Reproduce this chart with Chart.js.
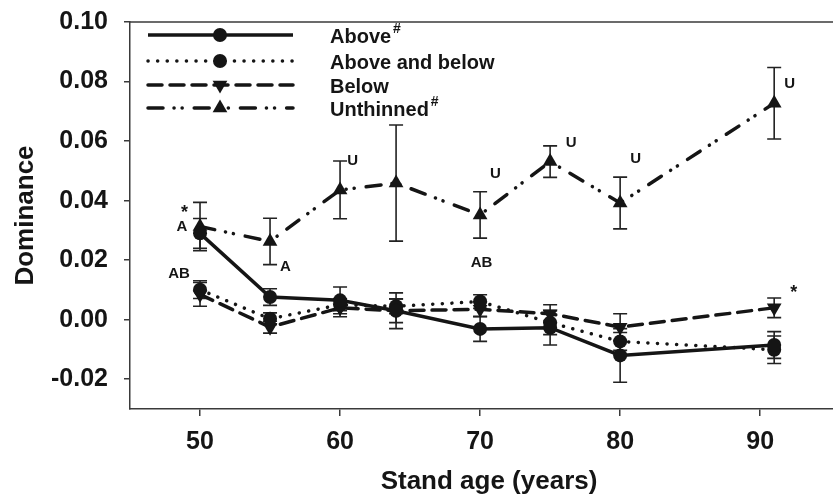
<!DOCTYPE html>
<html>
<head>
<meta charset="utf-8">
<script src="https://cdn.jsdelivr.net/npm/chart.js"></script>
<style>
  html, body { margin: 0; padding: 0; background: #fff; overflow: hidden; }
  #wrap { width: 833px; height: 497px; }
</style>
</head>
<body>
<div id="wrap"><canvas id="c" width="833" height="497"></canvas></div>
<script>
// stand ages (years)
const ages = [50, 55, 60, 64, 70, 75, 80, 91];

// dominance means and error bar half-lengths
const above = [0.029, 0.0076, 0.0065, 0.003, -0.0031, -0.0027, -0.012, -0.0085];
const aboveErr = [0.005, 0.0028, 0.0045, 0.004, 0.0042, 0.0058, 0.009, 0.0045];
const aboveBelow = [0.0101, 0.0003, 0.005, 0.0045, 0.0061, -0.001, -0.0073, -0.0101];
const aboveBelowErr = [0.003, 0.002, 0.002, 0.0025, 0.0023, 0.004, 0.003, 0.0046];
const below = [0.0085, -0.0025, 0.004, 0.003, 0.0035, 0.002, -0.0025, 0.004];
const belowErr = [0.004, 0.002, 0.003, 0.006, 0.0025, 0.003, 0.0045, 0.0033];
const unthinned = [0.0313, 0.0263, 0.0436, 0.0459, 0.0352, 0.0531, 0.0392, 0.0727];
const unthinnedErr = [0.0081, 0.0078, 0.0097, 0.0195, 0.0078, 0.0053, 0.0087, 0.012];

// tick labels
const xTicks = [50, 60, 70, 80, 90];
const yTicks = [-0.02, 0.00, 0.02, 0.04, 0.06, 0.08, 0.10];

// significance letters, placed in data coordinates
const noteText = ["*", "A", "AB", "A", "U", "U", "AB", "U", "U", "U", "*"];
const noteAge = [48.9, 48.7, 48.5, 56.1, 60.9, 71.1, 70.1, 76.5, 81.1, 92.1, 92.4];
const noteVal = [0.0372, 0.0312, 0.0154, 0.0178, 0.0534, 0.049, 0.0191, 0.0594, 0.054, 0.0792, 0.0102];

const INK = "#151515";
const AXIS = "#3a3a3a";
const FONT = "'Liberation Sans', Arial, sans-serif";

const styles = {
  above: { dash: [], style: "circle", rot: 0, r: 7 },
  aboveBelow: { dash: [0.1, 9.5], style: "circle", rot: 0, r: 7 },
  below: { dash: [14, 8], style: "triangle", rot: 180, r: 8.5 },
  unthinned: { dash: [15, 11, 0.1, 8, 0.1, 12], style: "triangle", rot: 0, r: 8.5 }
};

function makeSet(label, vals, errs, st) {
  return {
    label,
    data: ages.map((a, i) => ({ x: a, y: vals[i] })),
    errs,
    borderColor: INK,
    backgroundColor: INK,
    borderWidth: 3.5,
    borderDash: st.dash,
    borderCapStyle: st.dash.length ? "round" : "butt",
    pointStyle: st.style,
    pointRotation: st.rot,
    pointRadius: st.r,
    pointBorderWidth: 0,
    pointBackgroundColor: INK,
    tension: 0,
    fill: false
  };
}

const errorBars = {
  id: "errorBars",
  beforeDatasetsDraw(chart) {
    const { ctx, scales: { x, y } } = chart;
    ctx.save();
    ctx.strokeStyle = "#222";
    ctx.lineWidth = 1.6;
    chart.data.datasets.forEach(ds => {
      ds.data.forEach((p, i) => {
        const px = x.getPixelForValue(p.x);
        const top = y.getPixelForValue(p.y + ds.errs[i]);
        const bot = y.getPixelForValue(p.y - ds.errs[i]);
        ctx.beginPath();
        ctx.moveTo(px, top); ctx.lineTo(px, bot);
        ctx.moveTo(px - 7, top); ctx.lineTo(px + 7, top);
        ctx.moveTo(px - 7, bot); ctx.lineTo(px + 7, bot);
        ctx.stroke();
      });
    });
    ctx.restore();
  }
};

const extras = {
  id: "extras",
  afterDraw(chart) {
    const { ctx, chartArea, scales: { x, y } } = chart;
    ctx.save();
    // top frame line
    ctx.strokeStyle = AXIS;
    ctx.lineWidth = 1.5;
    ctx.beginPath();
    ctx.moveTo(chartArea.left, chartArea.top);
    ctx.lineTo(chartArea.right, chartArea.top);
    ctx.stroke();

    // annotations
    ctx.fillStyle = INK;
    ctx.textAlign = "center";
    ctx.textBaseline = "middle";
    noteText.forEach((t, i) => {
      ctx.font = (t === "*" ? "bold 18px " : "bold 15px ") + FONT;
      ctx.fillText(t, x.getPixelForValue(noteAge[i]), y.getPixelForValue(noteVal[i]) + (t === "*" ? 4 : 0));
    });

    // legend
    const rows = [
      ["Above", true, styles.above],
      ["Above and below", false, styles.aboveBelow],
      ["Below", false, styles.below],
      ["Unthinned", true, styles.unthinned]
    ];
    const rowY = [35, 61, 85, 108];
    rows.forEach((r, i) => {
      const ly = rowY[i];
      ctx.strokeStyle = INK;
      ctx.lineWidth = 3.5;
      ctx.setLineDash(r[2].dash);
      ctx.lineCap = r[2].dash.length ? "round" : "butt";
      ctx.beginPath();
      ctx.moveTo(148, ly); ctx.lineTo(293, ly);
      ctx.stroke();
      ctx.setLineDash([]);
      Chart.helpers.drawPoint(ctx, { pointStyle: r[2].style, rotation: r[2].rot, radius: r[2].r, borderWidth: 0 }, 220, ly);
      ctx.fillStyle = INK;
      ctx.textAlign = "left";
      ctx.textBaseline = "middle";
      ctx.font = "bold 20px " + FONT;
      ctx.fillText(r[0], 330, ly + 2);
      if (r[1]) {
        const w = ctx.measureText(r[0]).width;
        ctx.font = "bold 14px " + FONT;
        ctx.fillText("#", 330 + w + 2, ly - 6);
      }
    });

    // axis titles
    ctx.fillStyle = INK;
    ctx.font = "bold 26px " + FONT;
    ctx.textAlign = "center";
    ctx.textBaseline = "middle";
    ctx.fillText("Stand age (years)", 489, 482);
    ctx.translate(26, (chartArea.top + chartArea.bottom) / 2);
    ctx.rotate(-Math.PI / 2);
    ctx.fillText("Dominance", 0, 0);
    ctx.restore();
  }
};

new Chart(document.getElementById("c"), {
  type: "line",
  data: {
    datasets: [
      makeSet("Above#", above, aboveErr, styles.above),
      makeSet("Above and below", aboveBelow, aboveBelowErr, styles.aboveBelow),
      makeSet("Below", below, belowErr, styles.below),
      makeSet("Unthinned#", unthinned, unthinnedErr, styles.unthinned)
    ]
  },
  options: {
    responsive: false,
    animation: false,
    layout: { autoPadding: false, padding: { top: 22, right: 0, left: 0, bottom: 0 } },
    plugins: { legend: { display: false }, tooltip: { enabled: false } },
    scales: {
      x: {
        type: "linear",
        min: 45,
        max: 95.2,
        afterBuildTicks: s => { s.ticks = xTicks.map(v => ({ value: v })); },
        afterFit: s => { s.height = 88; s.paddingLeft = 0; s.paddingRight = 0; },
        grid: { display: true, drawOnChartArea: false, drawTicks: true, tickLength: 7, color: AXIS, lineWidth: 1.5 },
        border: { display: true, color: AXIS, width: 1.5 },
        ticks: { color: INK, font: { family: FONT, size: 25, weight: "bold" }, padding: 11, maxRotation: 0 }
      },
      y: {
        min: -0.03,
        max: 0.10,
        afterBuildTicks: s => { s.ticks = yTicks.map(v => ({ value: v })); },
        afterFit: s => { s.width = 130; s.paddingTop = 0; s.paddingBottom = 0; },
        grid: { display: true, drawOnChartArea: false, drawTicks: true, tickLength: 6, color: AXIS, lineWidth: 1.5 },
        border: { display: true, color: AXIS, width: 1.5 },
        ticks: { color: INK, font: { family: FONT, size: 25, weight: "bold" }, padding: 16, callback: v => v.toFixed(2) }
      }
    }
  },
  plugins: [errorBars, extras]
});
</script>
</body>
</html>
